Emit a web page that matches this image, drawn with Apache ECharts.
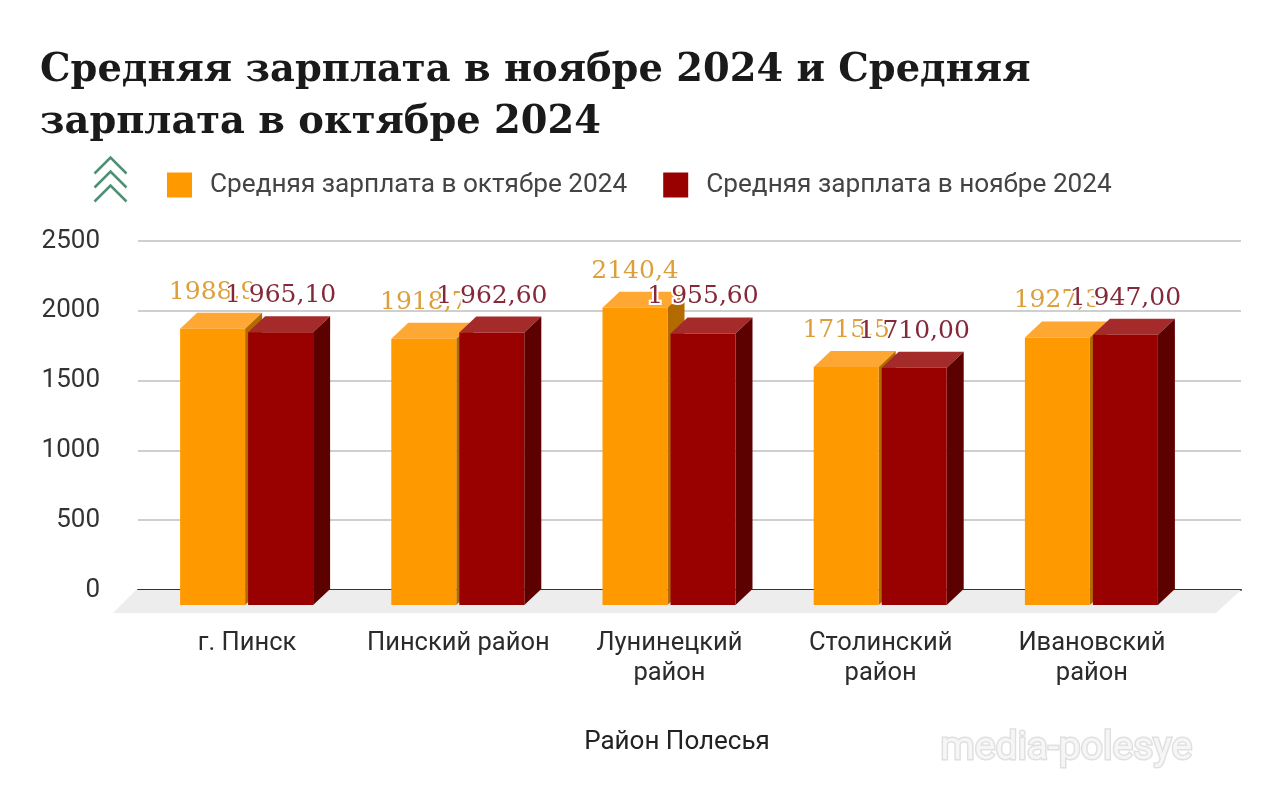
<!DOCTYPE html>
<html><head><meta charset="utf-8">
<style>html,body{margin:0;padding:0;background:#fff}#c{width:1280px;height:790px}</style>
<script src="https://cdn.jsdelivr.net/npm/echarts@6/dist/echarts.min.js"></script>
</head><body><div id="c"></div>
<script>
const categories = ['г. Пинск','Пинский район','Лунинецкий район','Столинский район','Ивановский район'];
const octoberValues = [1988.9,1918.7,2140.4,1715.5,1927.3];
const novemberValues = [1965.1,1962.6,1955.6,1710,1947];
const octoberName = 'Средняя зарплата в октябре 2024';
const novemberName = 'Средняя зарплата в ноябре 2024';
const yTicks = [0,500,1000,1500,2000,2500];
const titleLine1 = 'Средняя зарплата в ноябре 2024 и Средняя';
const titleLine2 = 'зарплата в октябре 2024';
const xName = 'Район Полесья';

const DX = 17, DY = 16, FLOOR = 15, BW = 65, SAG = 1.5;
const fmtOct = v => String(v).replace('.', ',');
const fmtNov = v => { const s = v.toFixed(2).replace('.', ','); return s[0] + ' ' + s.slice(1); };

function barItem(colors, offset, fmt, labelColor, halo) {
  return function (params, api) {
    const i = api.value(0), v = api.value(1);
    const p = api.coord([i, v]), base = api.coord([i, 0]);
    const x = base[0] + offset, top = p[1] + FLOOR + SAG, bot = base[1] + FLOOR;
    const poly = (pts, fill) => ({ type: 'polygon', shape: { points: pts }, style: { fill } });
    return { type: 'group', children: [
      poly([[x, top], [x + BW, top], [x + BW + DX, top - DY], [x + DX, top - DY]], colors[1]),
      poly([[x + BW, top], [x + BW + DX, top - DY], [x + BW + DX, bot - DY], [x + BW, bot]], colors[2]),
      poly([[x, top], [x + BW, top], [x + BW, bot], [x, bot]], colors[0]),
      { type: 'text', z2: 50, style: { text: fmt(v), x: x + BW / 2, y: p[1] - 20, align: 'center', verticalAlign: 'middle',
        font: '25px "DejaVu Serif"', fill: labelColor, stroke: halo ? '#fff' : null, lineWidth: halo ? 4 : 0 } }
    ] };
  };
}
function floorItem(params, api) {
  const l = api.coord([0, 0]), cs = params.coordSys, y = l[1];
  const x0 = cs.x, x1 = cs.x + cs.width;
  return { type: 'polygon', shape: { points: [[x0 - 2, y], [x1, y], [x1 - 25, y + 23], [x0 - 25, y + 23]] }, style: { fill: '#ededed' } };
}

const chart = echarts.init(document.getElementById('c'));
chart.setOption({
  animation: false,
  backgroundColor: '#fff',
  title: { text: titleLine1 + '\n' + titleLine2, left: 35, top: 40,
    textStyle: { fontFamily: '"DejaVu Serif"', fontWeight: 'bold', fontSize: 38.4, color: '#1a1a1a', lineHeight: 52 } },
  legend: { left: 162, top: 167, itemWidth: 25, itemHeight: 25, itemGap: 36, icon: 'rect', selectedMode: false,
    data: [{ name: octoberName, itemStyle: { color: '#ff9900' } }, { name: novemberName, itemStyle: { color: '#990000' } }],
    textStyle: { fontFamily: 'Roboto', fontSize: 26.2, color: '#444', padding: [0, 0, 0, 13] } },
  grid: [
    { left: 138, width: 1103, top: 241, height: 349 },
    { left: 141.5, width: 1056, top: 241, height: 349 }
  ],
  xAxis: [
    { type: 'category', gridIndex: 0, data: categories, axisTick: { show: false }, axisLabel: { show: false },
      axisLine: { lineStyle: { color: '#333', width: 2 } } },
    { type: 'category', gridIndex: 1, data: categories, axisTick: { show: false }, axisLine: { show: false },
      axisLabel: { interval: 0, margin: 39, fontFamily: 'Roboto', fontSize: 25.5, color: '#2b2b2b', lineHeight: 30,
        formatter: v => v.length > 14 ? v.replace(' ', '\n') : v },
      name: xName, nameLocation: 'middle', nameGap: 139,
      nameTextStyle: { fontFamily: 'Roboto', fontSize: 26, color: '#222', padding: [0, 0, 0, 15] } }
  ],
  yAxis: [
    { type: 'value', gridIndex: 0, min: yTicks[0], max: yTicks[yTicks.length - 1], interval: 500,
      axisLine: { show: false }, axisTick: { show: false },
      axisLabel: { margin: 38, fontFamily: 'Roboto', fontSize: 26, color: '#333', padding: [3, 0, 0, 0], formatter: v => String(v) },
      splitLine: { lineStyle: { color: '#cfcfcf', width: 2 } } },
    { type: 'value', gridIndex: 1, min: yTicks[0], max: yTicks[yTicks.length - 1], interval: 500,
      show: false }
  ],
  graphic: [
    { type: 'group', left: 92, top: 155, children: [0, 14, 28].map(o => ({ type: 'polyline',
        shape: { points: [[0, 16 + o], [16, 0 + o], [32, 16 + o]] }, style: { stroke: '#4f8f73', lineWidth: 2.5, fill: null } })) },
    { type: 'text', left: 939, top: 728, z: 100, style: { text: 'media-polesye', font: '39px Roboto', fill: '#f6f6f6', stroke: '#e0e0e0', lineWidth: 3 } }
  ],
  series: [
    { type: 'custom', xAxisIndex: 0, yAxisIndex: 0, silent: true, z: 1, renderItem: floorItem, data: [[0, 0]], legendHoverLink: false, tooltip: { show: false } },
    { type: 'custom', name: octoberName, xAxisIndex: 1, yAxisIndex: 1, z: 3, clip: false,
      renderItem: barItem(['#ff9900', '#ffa733', '#b36b00'], -67, fmtOct, '#dc9f3c', false),
      data: octoberValues.map((v, i) => [i, v]), encode: { x: 0, y: 1 } },
    { type: 'custom', name: novemberName, xAxisIndex: 1, yAxisIndex: 1, z: 4, clip: false,
      renderItem: barItem(['#990000', '#a52a2a', '#5c0000'], 1, fmtNov, '#85283a', true),
      data: novemberValues.map((v, i) => [i, v]), encode: { x: 0, y: 1 } }
  ]
});
</script></body></html>
